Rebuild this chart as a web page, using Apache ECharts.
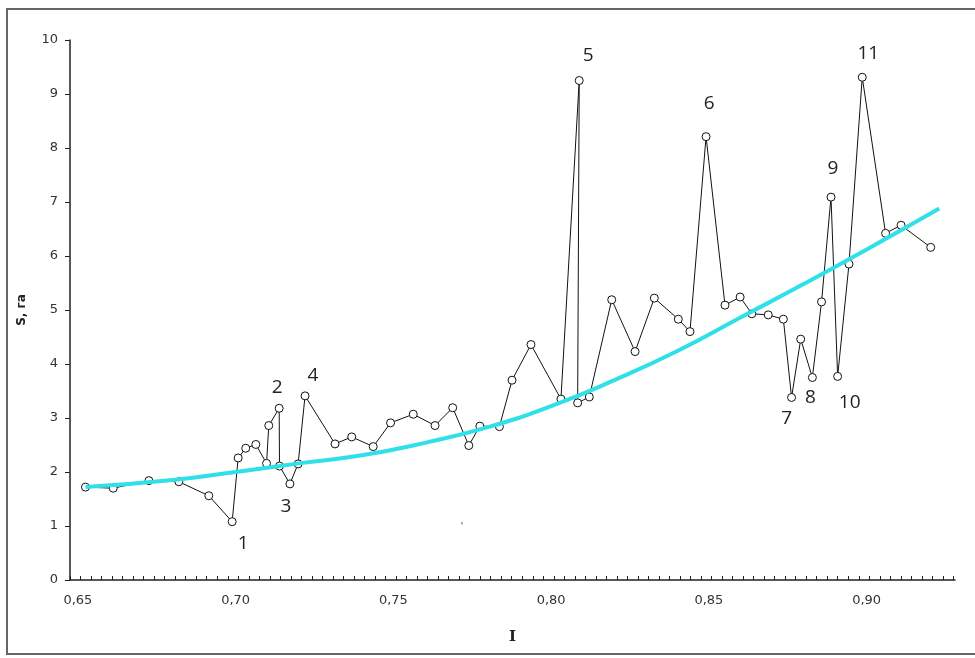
<!DOCTYPE html>
<html>
<head>
<meta charset="utf-8">
<script src="https://cdn.jsdelivr.net/npm/echarts@6/dist/echarts.min.js"></script>
<style>
  html, body { margin: 0; padding: 0; background: #fff; }
  #chart { width: 975px; height: 658px; }
</style>
</head>
<body>
<div id="chart"></div>
<script>
// measured points (I, S)
var xs = [0.6524, 0.6612, 0.6725, 0.6820, 0.6915, 0.6989, 0.7008, 0.7032, 0.7064, 0.7098,
          0.7105, 0.7138, 0.7139, 0.7172, 0.7198, 0.7220, 0.7315, 0.7368, 0.7436, 0.7491,
          0.7563, 0.7632, 0.7688, 0.7739, 0.7774, 0.7836, 0.7876, 0.7936, 0.8031, 0.8089,
          0.8084, 0.8121, 0.8192, 0.8266, 0.8327, 0.8403, 0.8440, 0.8491, 0.8551, 0.8599,
          0.8636, 0.8688, 0.8736, 0.8762, 0.8791, 0.8828, 0.8857, 0.8887, 0.8908, 0.8944,
          0.8986, 0.9060, 0.9109, 0.9203];
var ys = [1.72, 1.70, 1.84, 1.82, 1.56, 1.08, 2.26, 2.44, 2.51, 2.16,
          2.86, 3.18, 2.11, 1.78, 2.15, 3.41, 2.52, 2.65, 2.47, 2.91,
          3.07, 2.86, 3.19, 2.49, 2.85, 2.84, 3.70, 4.36, 3.35, 9.25,
          3.28, 3.39, 5.19, 4.23, 5.22, 4.83, 4.60, 8.21, 5.09, 5.24,
          4.93, 4.91, 4.83, 3.38, 4.46, 3.75, 5.15, 7.09, 3.77, 5.85,
          9.31, 6.42, 6.57, 6.16];

// trend curve
var trendX = [0.6524, 0.68, 0.70, 0.72, 0.74, 0.76, 0.78, 0.80, 0.82, 0.84, 0.86, 0.88, 0.90, 0.923];
var trendY = [1.72, 1.85, 2.00, 2.16, 2.31, 2.54, 2.83, 3.22, 3.70, 4.24, 4.86, 5.48, 6.12, 6.88];

// numbered points
var peakIndex = [5, 11, 13, 15, 29, 37, 43, 45, 47, 48, 50];
var peakText = ['1', '2', '3', '4', '5', '6', '7', '8', '9', '10', '11'];
var peakOffset = [[11, 22], [-2, -21], [-4, 23], [8, -20], [9, -25], [3, -33],
                  [-5, 21], [-2, 20], [2, -29], [12, 26], [6, -24]];

var xLabels = [0.65, 0.70, 0.75, 0.80, 0.85, 0.90];

var xTicks = [];
for (var t = 0; t <= 84; t++) xTicks.push(+(0.6475 + t / 300).toFixed(5));

var pts = xs.map(function (x, i) { return [x, ys[i]]; });
peakIndex.forEach(function (idx, k) {
  pts[idx] = {
    value: [xs[idx], ys[idx]],
    label: {
      show: true, position: 'inside', offset: peakOffset[k],
      formatter: peakText[k], fontSize: 19, color: '#222',
      fontFamily: 'Open Sans'
    }
  };
});

var chart = echarts.init(document.getElementById('chart'));
chart.setOption({
  animation: false,
  grid: { left: 70, top: 40, right: 20, bottom: 78 },
  xAxis: {
    type: 'value', min: 0.6475, max: 0.928,
    name: 'I', nameLocation: 'middle', nameGap: 50,
    nameTextStyle: { fontWeight: 'bold', fontSize: 15, color: '#222', fontFamily: 'DejaVu Serif' },
    axisLine: { lineStyle: { color: '#222', width: 1.5 } },
    axisTick: { show: true, inside: true, length: 4, customValues: xTicks, lineStyle: { color: '#222' } },
    axisLabel: {
      customValues: xLabels, margin: 14, fontSize: 13, color: '#333', fontFamily: 'DejaVu Sans',
      formatter: function (v) { return v.toFixed(2).replace('.', ','); }
    },
    splitLine: { show: false }
  },
  yAxis: {
    type: 'value', min: 0, max: 10, interval: 1,
    name: 'S, га', nameLocation: 'middle', nameGap: 42, nameRotate: 90,
    nameTextStyle: { fontWeight: 'bold', fontSize: 12, color: '#222', fontFamily: 'DejaVu Sans' },
    axisLine: { show: true, lineStyle: { color: '#222', width: 1.5 } },
    axisTick: { show: true, length: 5, lineStyle: { color: '#222' } },
    axisLabel: { margin: 12, fontSize: 13, color: '#333', fontFamily: 'DejaVu Sans' },
    splitLine: { show: false }
  },
  graphic: [
    { type: 'rect', shape: { x: 7, y: 9, width: 980, height: 645 },
      style: { fill: 'none', stroke: '#666', lineWidth: 2 }, silent: true },
    { type: 'text', x: 461, y: 522, style: { text: "'", fontSize: 10, fill: '#444' } }
  ],
  series: [
    {
      type: 'line', data: pts, z: 2,
      symbol: 'circle', symbolSize: 8,
      itemStyle: { color: '#fff', borderColor: '#111', borderWidth: 1 },
      lineStyle: { color: '#111', width: 1 }
    },
    {
      type: 'line', z: 3, smooth: true, symbol: 'none',
      data: trendX.map(function (x, i) { return [x, trendY[i]]; }),
      lineStyle: { color: '#2fe0e8', width: 4 }
    }
  ]
});
</script>
</body>
</html>
